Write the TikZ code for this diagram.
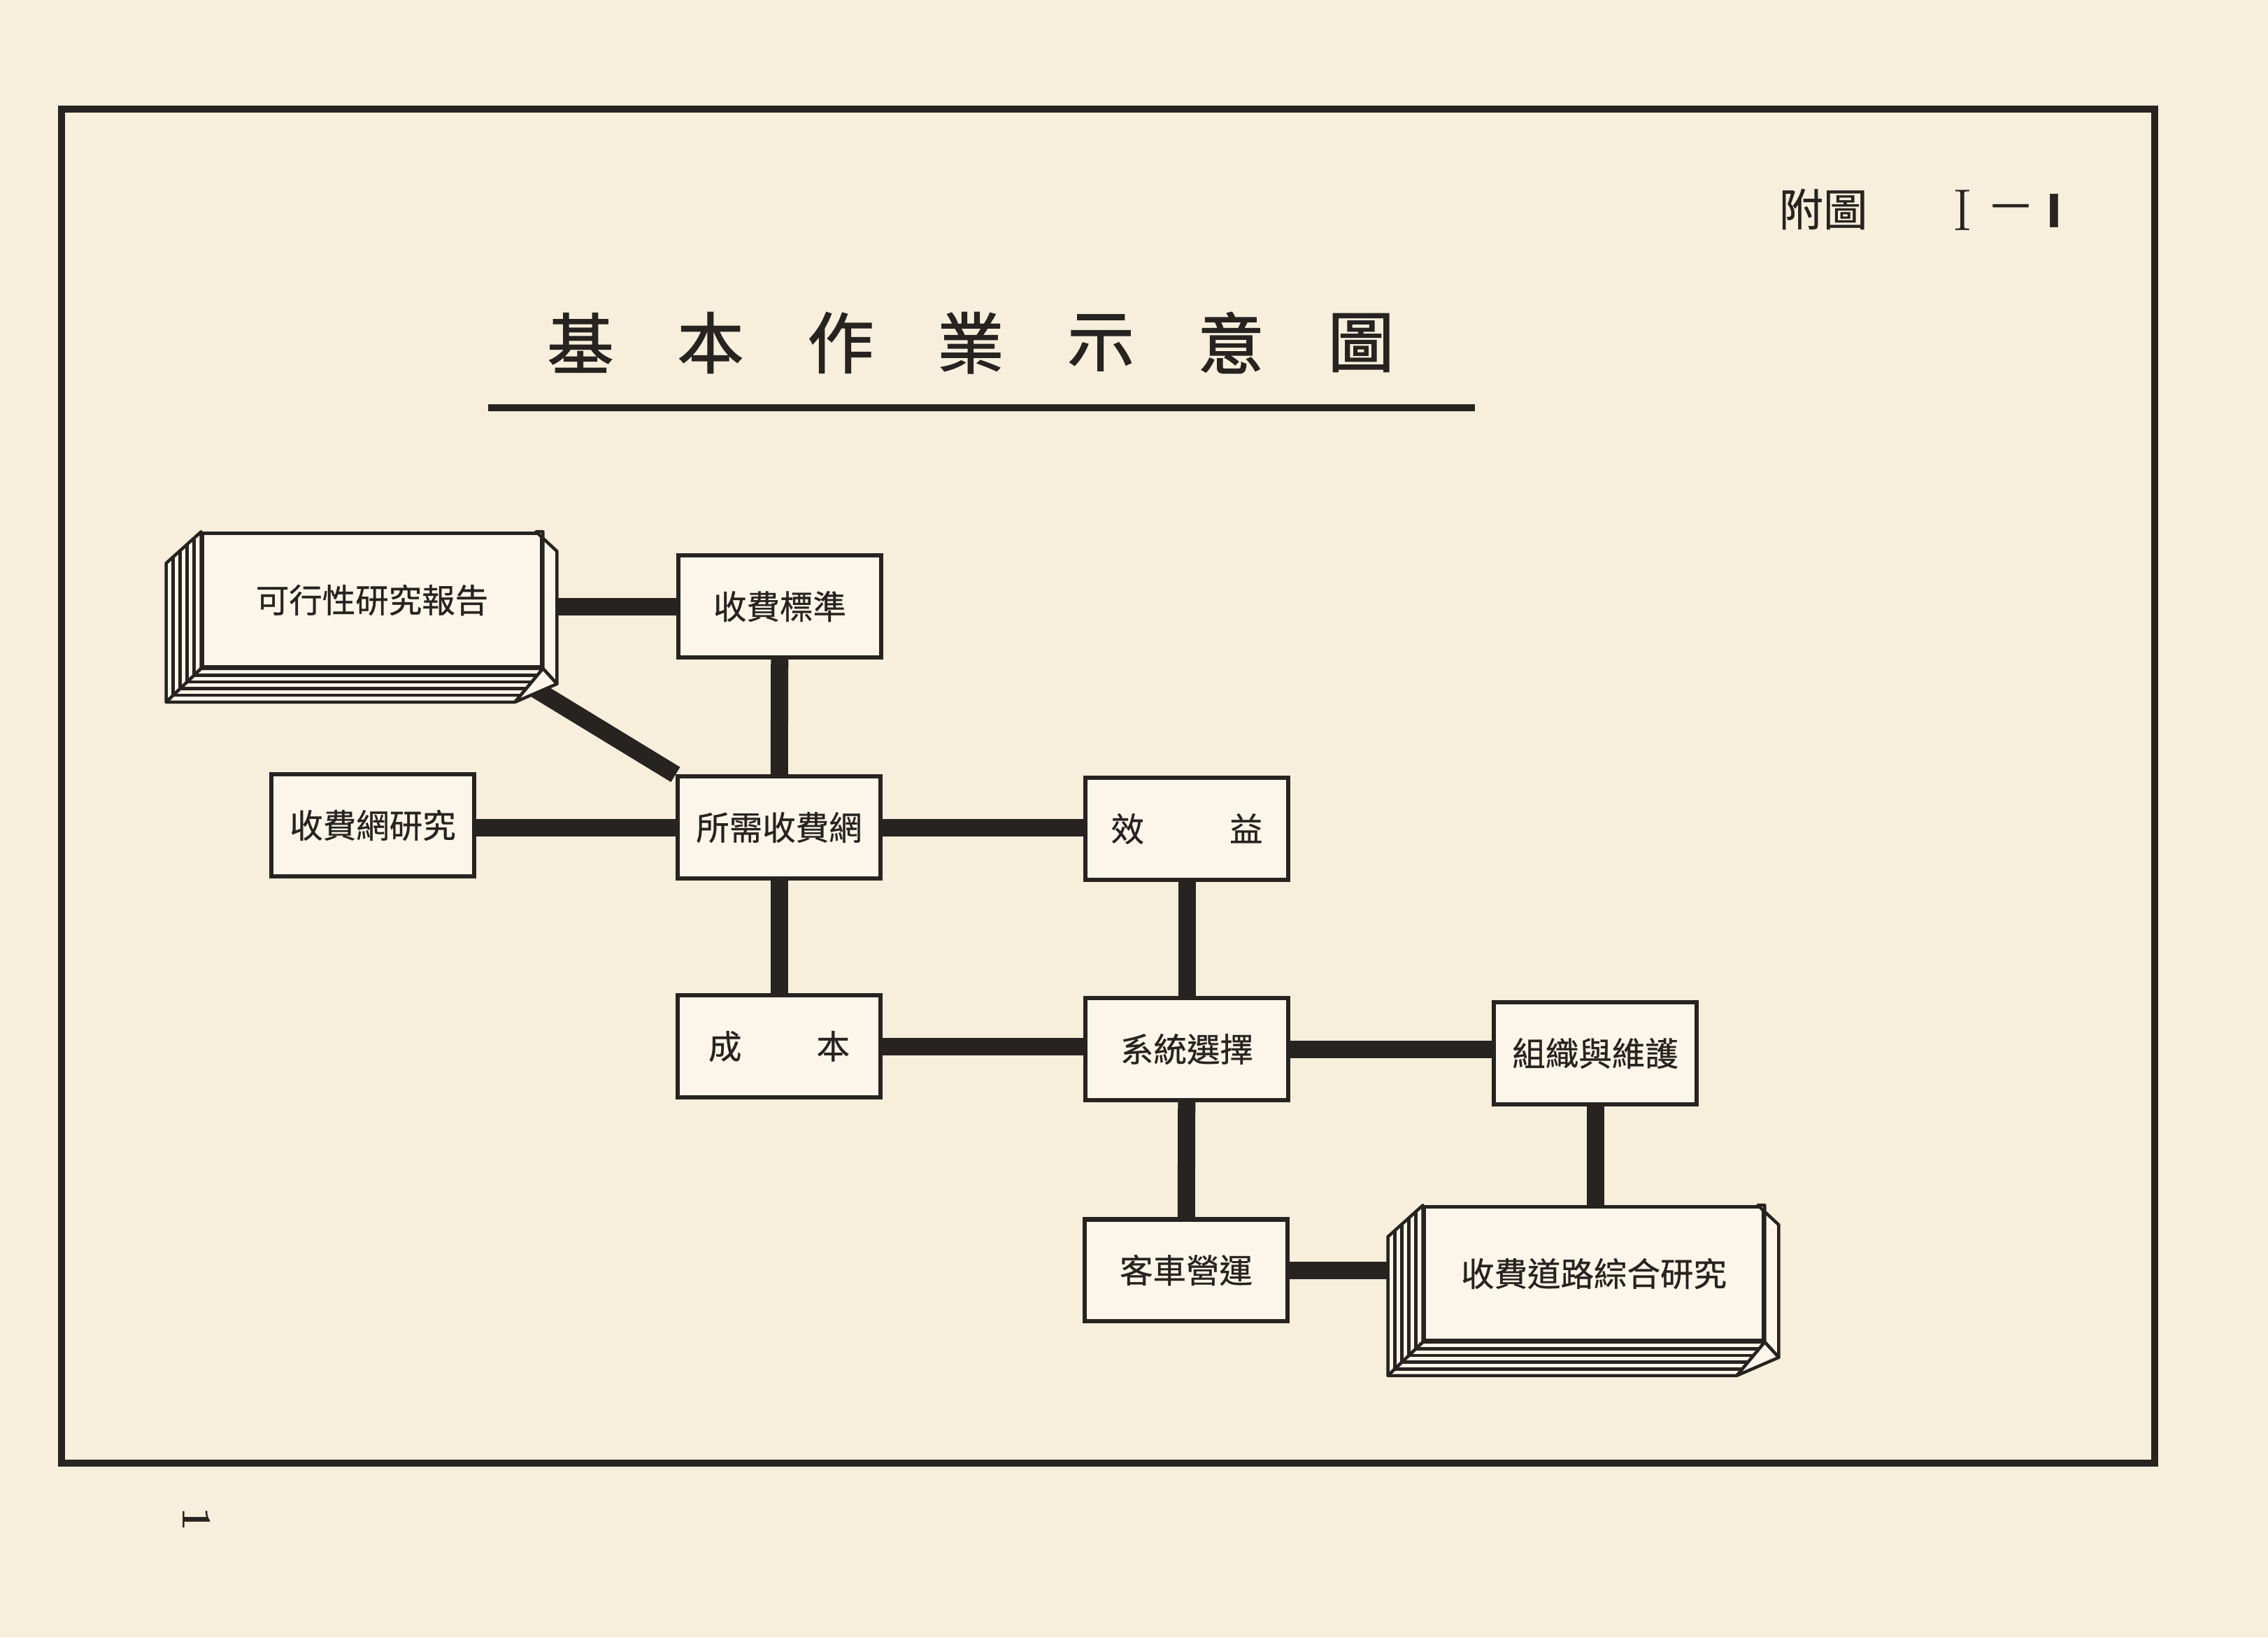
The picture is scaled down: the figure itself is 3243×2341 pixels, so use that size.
\documentclass[tikz,border=0pt]{standalone}
\usepackage{fontspec}
\newfontfamily\cjk[FakeBold=0.6]{Noto Sans CJK TC}
\newfontfamily\cjktitle[FakeBold=1.6]{Noto Sans CJK TC}
\usepackage{tikz}
\usetikzlibrary{calc,backgrounds}
\definecolor{paper}{RGB}{247,238,219}
\definecolor{boxfill}{RGB}{251,246,233}
\definecolor{ink}{RGB}{38,35,33}

\begin{document}
\begin{tikzpicture}[
    x=0.01cm, y=-0.01cm,
    box/.style={rectangle, draw=ink, line width=0.06cm, fill=boxfill, minimum width=2.9cm, minimum height=1.45cm, inner sep=0pt, align=center, text=ink, font=\cjk\fontsize{13.5}{16}\selectfont},
    book/.style={box, line width=0.045cm, minimum width=4.84cm, minimum height=1.91cm},
    bookline/.style={draw=ink, line width=0.045cm, fill=boxfill, line join=round},
    bar/.style={draw=ink, line width=0.25cm},
    titlechar/.style={inner sep=0pt, text=ink, font=\cjktitle\fontsize{27}{30}\selectfont},
    label/.style={inner sep=0pt, text=ink},
]
    \useasboundingbox (0,0) rectangle (3243,2341);

    % Frame
    \draw[ink, line width=0.1cm] (88,156) rectangle (3081,2092);

    % Title
    \foreach \c [count=\i from 0] in {基,本,作,業,示,意,圖} {
        \node[titlechar] (title\i) at (830+186*\i, 490) {\c};
    }
    \draw[ink, line width=0.1cm] (698,583) -- (2109,583);

    % Figure number and page number
    \node[label, font=\cjk\fontsize{18}{20}\selectfont] (figlabel) at (2607,299) {附圖};
    \node[label, font=\fontsize{24}{26}\selectfont] (fignum) at (2806,301) {I};
    \node[label, font=\cjk\fontsize{18}{20}\selectfont] (figdash) at (2875,302) {—};
    \node[label, font=\cjk\bfseries\fontsize{18}{20}\selectfont] (figsub) at (2937,301) {I};
    \node[label, font=\bfseries\fontsize{17}{19}\selectfont, rotate=-90] (pageno) at (281,2172) {1};

    % Reports
    \node[book] (report) at (532,858) {可行性研究報告};
    \node[book] (study) at (2279,1821) {收費道路綜合研究};
    \foreach \b in {report, study} {
        \filldraw[bookline] (\b.north west) -- ++(-50,45) -- ($(\b.south west)+(-50,48)$) -- (\b.south west) -- cycle;
        \filldraw[bookline] (\b.south west) -- ++(-50,48) -- ($(\b.south east)+(-40,48)$) -- (\b.south east) -- cycle;
        \filldraw[bookline] ($(\b.north east)+(-10,0)$) -- ++(30,28) -- ($(\b.south east)+(20,22)$) -- (\b.south east) -- (\b.north east) -- cycle;
        \filldraw[bookline] (\b.south east) -- ++(20,22) -- ($(\b.south east)+(-40,48)$) -- cycle;
        \foreach \k in {1,...,4} {
            \draw[bookline, fill=none] ($(\b.north west)+(-10*\k,9*\k)$) -- ($(\b.south west)+(-10*\k,9.6*\k)$);
            \draw[bookline, fill=none] ($(\b.south west)+(-10*\k,9.6*\k)$) -- ($(\b.south east)+(-8*\k,9.6*\k)$);
        }
    }

    % Work items
    \node[box] (standard) at (1115,867) {收費標準};
    \node[box] (netstudy) at (533,1180) {收費網研究};
    \node[box] (network) at (1114,1183) {所需收費網};
    \node[box] (benefit) at (1697,1185) {效\hspace{1.22cm}益};
    \node[box] (cost) at (1114,1496) {成\hspace{1.07cm}本};
    \node[box] (system) at (1697,1500) {系統選擇};
    \node[box] (organize) at (2281,1506) {組織與維護};
    \node[box] (operation) at (1696,1816) {客車營運};

    % Connectors
    \begin{scope}[on background layer]
        \fill[paper] (0,0) rectangle (3243,2341);
        \draw[bar] ($(report.south east)+(-10,30)$) -- (network.north west);
        \draw[bar] (standard.west) -- (standard.west -| report.east);
        \draw[bar] (standard) -- (network);
        \draw[bar] (network.west) -- (network.west -| netstudy.east);
        \draw[bar] (network.east) -- (network.east -| benefit.west);
        \draw[bar] (network) -- (cost);
        \draw[bar] (benefit) -- (system);
        \draw[bar] (cost.east) -- (cost.east -| system.west);
        \draw[bar] (system.east) -- (system.east -| organize.west);
        \draw[bar] (system) -- (operation);
        \draw[bar] (organize.south) -- (organize.south |- study.north);
        \draw[bar] (operation.east) -- (operation.east -| study.west);
    \end{scope}
\end{tikzpicture}
\end{document}
